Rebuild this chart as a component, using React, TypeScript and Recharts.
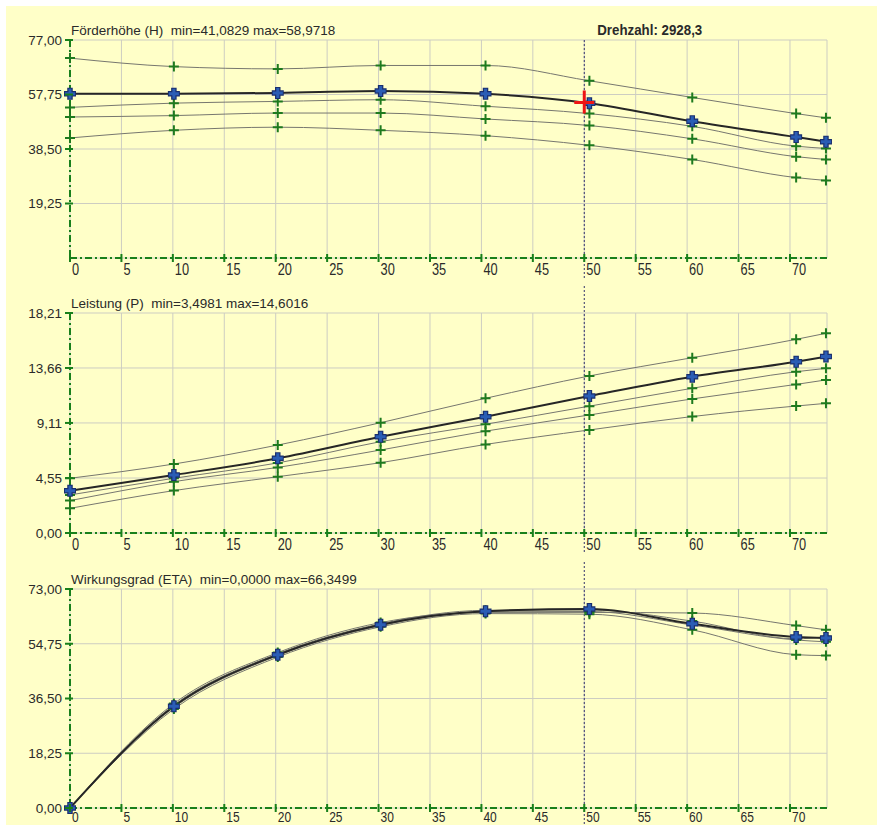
import React from 'react';
import { LineChart, Line, XAxis, YAxis, CartesianGrid, ReferenceLine, ReferenceDot } from 'recharts';

// Förderstrom Q – measuring points
const flow = [0, 10.1, 20.2, 30.2, 40.4, 50.5, 60.5, 70.6, 73.5];
const flowTicks = [0, 5, 10, 15, 20, 25, 30, 35, 40, 45, 50, 55, 60, 65, 70];
const flowMax = 73.6;

// Förderhöhe (H)
const headSel = [58.0, 58.0, 58.3, 58.97, 58.0, 54.7, 48.3, 42.7, 41.08];
const headA = [70.6, 67.6, 66.8, 68.0, 68.0, 62.6, 56.7, 51.0, 49.5];
const headB = [53.2, 54.7, 55.3, 55.9, 53.6, 51.0, 46.5, 39.5, 38.7];
const headC = [49.8, 50.3, 51.2, 51.2, 49.1, 46.8, 42.1, 35.8, 34.8];
const headD = [42.4, 45.1, 46.2, 45.1, 43.2, 39.8, 34.8, 28.4, 27.4];
const headTicks = [19.25, 38.5, 57.75, 77];

// Leistung (P)
const powerSel = [3.4981, 4.8, 6.18, 7.97, 9.63, 11.34, 12.94, 14.18, 14.6016];
const powerA = [4.53, 5.71, 7.28, 9.13, 11.15, 13.0, 14.51, 16.03, 16.53];
const powerB = [3.15, 4.53, 5.8, 7.56, 9.0, 10.5, 11.98, 13.35, 13.63];
const powerC = [2.68, 4.25, 5.43, 6.87, 8.43, 9.77, 11.1, 12.3, 12.67];
const powerD = [2.04, 3.51, 4.66, 5.82, 7.33, 8.53, 9.64, 10.51, 10.73];
const powerTicks = [0, 4.55, 9.11, 13.66, 18.21];

// Wirkungsgrad (ETA)
const etaSel = [0, 33.9, 51.1, 61.1, 65.6, 66.35, 61.4, 57.0, 56.7];
const etaA = [0, 34.8, 51.8, 61.8, 65.2, 65.2, 65.0, 60.8, 59.4];
const etaB = [0, 34.3, 51.4, 61.4, 65.9, 66.0, 62.3, 56.4, 57.1];
const etaC = [0, 33.5, 50.8, 60.8, 65.4, 65.5, 61.0, 56.0, 55.4];
const etaD = [0, 33.0, 50.3, 60.4, 64.8, 64.6, 59.4, 51.1, 50.8];
const etaTicks = [0, 18.25, 36.5, 54.75, 73];

// operating point
const speedQ = 50;
const speedText = 'Drehzahl: 2928,3';
const headAtSpeed = 54.9;

const BG = '#FFFFC8';
const GRID = '#CDCDC2';
const AXIS = '#18801B';
const GRAY = '#77776F';
const SEL = '#262626';
const GREEN = '#1E7A1E';
const BLUE = '#2A5DB5';
const TEXT = '#2a2a2a';
const SANS = '"Liberation Sans", Arial, sans-serif';

const W = 871;
const LEFT = 4;
const YW = 60;
const RIGHT = 50;
const XH = 20;

const toRows = (sel: number[], a: number[], b: number[], c: number[], d: number[]) =>
  flow.map((q, i) => ({ q, sel: sel[i], a: a[i], b: b[i], c: c[i], d: d[i] }));

const fmt = (v: number) => v.toFixed(2).replace('.', ',');

// narrow look: regular sans squeezed horizontally
const xTick = (labelDy: number, size: number) => (p: any) => (
  <g>
    <line x1={p.x} x2={p.x} y1={p.y - 4} y2={p.y + 4} stroke={AXIS} strokeWidth={2} />
    <text
      transform={`translate(${p.x + 2},${p.y + labelDy}) scale(0.8,1)`}
      fontFamily={SANS}
      fontSize={size}
      fill={TEXT}
    >
      {p.payload.value}
    </text>
  </g>
);

const renderYTick = (p: any) => (
  <g>
    <line x1={p.x - 5} x2={p.x + 3} y1={p.y} y2={p.y} stroke={AXIS} strokeWidth={2} />
    <text x={p.x - 8} y={p.y} dy="0.36em" textAnchor="end" fontFamily={SANS} fontSize={13.5} fill={TEXT}>
      {fmt(p.payload.value)}
    </text>
  </g>
);

const greenPlus = (p: any) => (
  <path
    key={`g-${p.dataKey}-${p.index}`}
    d={`M${p.cx - 5},${p.cy}H${p.cx + 5}M${p.cx},${p.cy - 5}V${p.cy + 5}`}
    stroke={GREEN}
    strokeWidth={2}
    fill="none"
  />
);

const bluePlus = (p: any) => (
  <g key={`b-${p.index}`}>
    <path d={`M${p.cx - 6},${p.cy}H${p.cx + 6}M${p.cx},${p.cy - 6}V${p.cy + 6}`} stroke="#1a2f6e" strokeWidth={5.5} fill="none" />
    <path d={`M${p.cx - 5},${p.cy}H${p.cx + 5}M${p.cx},${p.cy - 5}V${p.cy + 5}`} stroke={BLUE} strokeWidth={3} fill="none" />
  </g>
);

const redCross = (p: any) => (
  <path
    d={`M${p.cx - 10},${p.cy}H${p.cx + 10}M${p.cx},${p.cy - 12}V${p.cy + 11}`}
    stroke="#EE1515"
    strokeWidth={3}
    fill="none"
  />
);

type PanelProps = {
  title: string;
  rows: ReturnType<typeof toRows>;
  yMax: number;
  yTicks: number[];
  plotHeight: number;
  top: number;
  marginTop: number;
  labelDy?: number;
  labelSize?: number;
  first?: boolean;
};

const Panel = ({ title, rows, yMax, yTicks, plotHeight, top, marginTop, labelDy = 17, labelSize = 16, first }: PanelProps) => {
  const height = marginTop + plotHeight + XH;
  const markLine = (p: any) => {
    const y0 = Math.min(p.y1, p.y2);
    const y1 = Math.max(p.y1, p.y2);
    return (
      <line
        x1={p.x1}
        x2={p.x2}
        y1={first ? y0 : 0}
        y2={y1 + XH + 10}
        stroke="#33336a"
        strokeWidth={1}
        strokeDasharray="2 2"
      />
    );
  };
  return (
    <div style={{ position: 'absolute', left: 0, top }}>
      <LineChart
        width={W}
        height={height}
        data={rows}
        margin={{ top: marginTop, right: RIGHT, left: LEFT, bottom: 0 }}
      >
        <CartesianGrid stroke={GRID} />
        <XAxis
          dataKey="q"
          type="number"
          domain={[0, flowMax]}
          ticks={flowTicks}
          interval={0}
          tick={xTick(labelDy, labelSize)}
          tickLine={false}
          tickSize={0}
          tickMargin={0}
          height={XH}
          axisLine={{ stroke: AXIS, strokeWidth: 2, strokeDasharray: '7 3 2 3' }}
        />
        <YAxis
          type="number"
          domain={[0, yMax]}
          ticks={yTicks}
          interval={0}
          tick={renderYTick}
          tickLine={false}
          tickSize={0}
          tickMargin={0}
          width={YW}
          axisLine={{ stroke: AXIS, strokeWidth: 2, strokeDasharray: '7 3 2 3' }}
          label={{
            content: (lp: any) => (
              <text
                x={lp.viewBox.x + lp.viewBox.width + 1}
                y={lp.viewBox.y - 5}
                fontFamily={SANS}
                fontSize={13.5}
                fill={TEXT}
                style={{ whiteSpace: 'pre' }}
              >
                {title}
              </text>
            ),
          }}
        />
        <ReferenceLine
          x={speedQ}
          shape={markLine}
          label={
            first
              ? {
                  content: (lp: any) => (
                    <text
                      x={lp.viewBox.x + 13}
                      y={lp.viewBox.y - 5}
                      fontFamily={SANS}
                      fontWeight="bold"
                      fontSize={15.5}
                      textLength={105}
                      lengthAdjust="spacingAndGlyphs"
                      fill={TEXT}
                    >
                      {speedText}
                    </text>
                  ),
                }
              : undefined
          }
        />
        {['a', 'b', 'c', 'd'].map((k) => (
          <Line
            key={k}
            dataKey={k}
            type="monotone"
            stroke={GRAY}
            strokeWidth={1}
            dot={greenPlus}
            activeDot={false}
            isAnimationActive={false}
          />
        ))}
        <Line
          dataKey="sel"
          type="monotone"
          stroke={SEL}
          strokeWidth={2}
          dot={bluePlus}
          activeDot={false}
          isAnimationActive={false}
        />
        {first && <ReferenceDot x={speedQ} y={headAtSpeed} shape={redCross} />}
      </LineChart>
    </div>
  );
};

export default function App() {
  return (
    <div style={{ position: 'absolute', left: 0, top: 0, width: 877, height: 825, background: '#fff', overflow: 'hidden' }}>
      <div style={{ position: 'absolute', left: 6, top: 6, width: W, height: 819, background: BG, overflow: 'hidden' }}>
        <Panel
          title="Förderhöhe (H)  min=41,0829 max=58,9718"
          rows={toRows(headSel, headA, headB, headC, headD)}
          yMax={77}
          yTicks={headTicks}
          top={0}
          plotHeight={218}
          marginTop={34}
          first
        />
        <Panel
          title="Leistung (P)  min=3,4981 max=14,6016"
          rows={toRows(powerSel, powerA, powerB, powerC, powerD)}
          yMax={18.21}
          yTicks={powerTicks}
          top={280}
          plotHeight={220}
          marginTop={27}
        />
        <Panel
          title="Wirkungsgrad (ETA)  min=0,0000 max=66,3499"
          rows={toRows(etaSel, etaA, etaB, etaC, etaD)}
          yMax={73}
          yTicks={etaTicks}
          top={556}
          plotHeight={219}
          marginTop={27}
          labelDy={14}
          labelSize={15}
        />
      </div>
    </div>
  );
}
